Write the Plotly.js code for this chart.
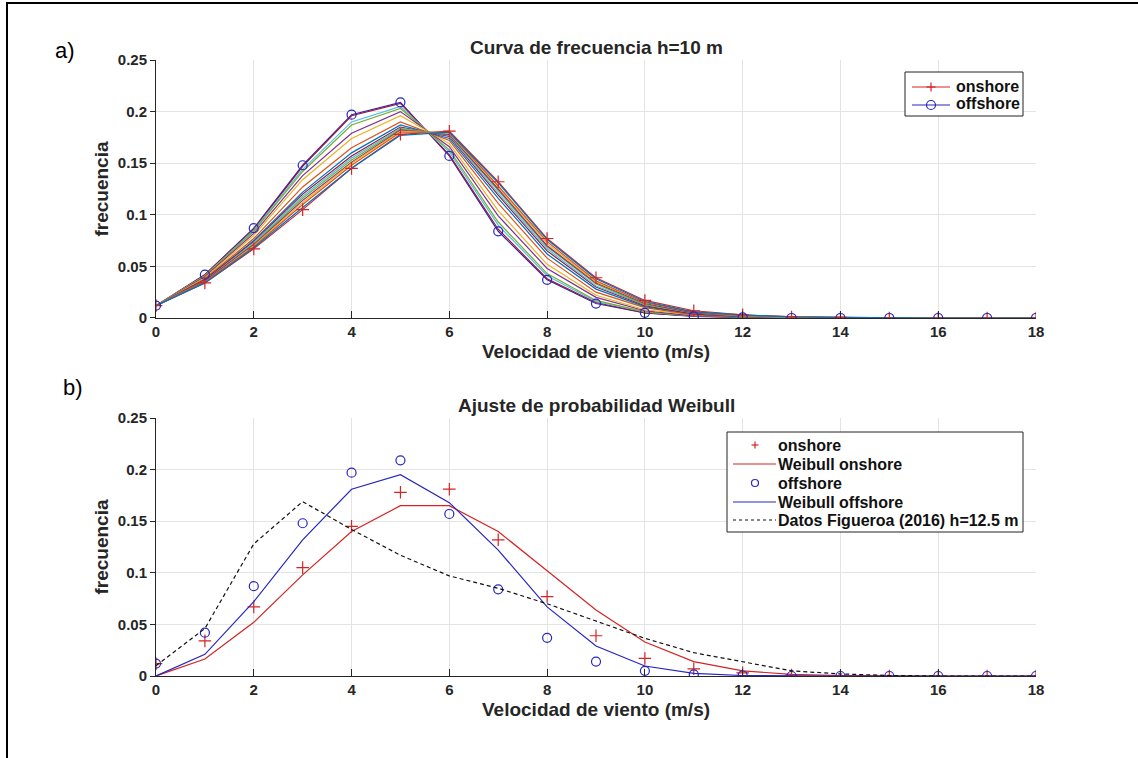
<!DOCTYPE html>
<html>
<head>
<meta charset="utf-8">
<script src="https://cdn.plot.ly/plotly-3.0.1.min.js"></script>
<style>html,body{margin:0;padding:0;background:#fff;}#chart{width:1138px;height:758px;}</style>
</head>
<body>
<div id="chart"></div>
<script>
// ---------- data ----------
const speed = [0,1,2,3,4,5,6,7,8,9,10,11,12,13,14,15,16,17,18];
const xTickVals = [0,2,4,6,8,10,12,14,16,18];
const xTickText = ['0','2','4','6','8','10','12','14','16','18'];
const yTickVals = [0,0.05,0.1,0.15,0.2,0.25];
const yTickText = ['0','0.05','0.1','0.15','0.2','0.25'];

const onshore  = [0.012,0.034,0.067,0.105,0.145,0.178,0.181,0.132,0.077,0.039,0.017,0.007,0.003,0.001,0.0005,0,0,0,0];
const offshore = [0.012,0.042,0.087,0.148,0.197,0.209,0.157,0.084,0.037,0.014,0.005,0.0015,0.0005,0,0,0,0,0,0];

// individual site curves (panel a)
const site01 = [0.012,0.042,0.086,0.147,0.196,0.208,0.158,0.086,0.038,0.015,0.005,0.002,0.0005,0,0,0,0,0,0];
const site02 = [0.012,0.041,0.085,0.144,0.190,0.205,0.161,0.090,0.041,0.016,0.006,0.002,0.001,0,0,0,0,0,0];
const site03 = [0.012,0.041,0.084,0.142,0.187,0.203,0.163,0.093,0.043,0.017,0.006,0.002,0.001,0,0,0,0,0,0];
const site04 = [0.012,0.040,0.082,0.138,0.179,0.200,0.166,0.099,0.048,0.020,0.007,0.002,0.001,0,0,0,0,0,0];
const site05 = [0.012,0.039,0.080,0.134,0.174,0.196,0.169,0.104,0.052,0.022,0.008,0.003,0.001,0,0,0,0,0,0];
const site06 = [0.012,0.038,0.077,0.127,0.165,0.190,0.172,0.111,0.058,0.025,0.010,0.003,0.001,0.0005,0,0,0,0,0];
const site07 = [0.012,0.037,0.075,0.122,0.160,0.187,0.174,0.116,0.062,0.028,0.011,0.004,0.001,0.0005,0,0,0,0,0];
const site08 = [0.012,0.037,0.074,0.120,0.157,0.185,0.176,0.119,0.065,0.030,0.012,0.004,0.002,0.0005,0,0,0,0,0];
const site09 = [0.012,0.036,0.073,0.118,0.155,0.184,0.177,0.121,0.067,0.031,0.013,0.005,0.002,0.0005,0,0,0,0,0];
const site10 = [0.012,0.036,0.072,0.116,0.153,0.183,0.178,0.123,0.069,0.033,0.013,0.005,0.002,0.001,0,0,0,0,0];
const site11 = [0.012,0.036,0.071,0.114,0.151,0.182,0.178,0.125,0.070,0.034,0.014,0.005,0.002,0.001,0,0,0,0,0];
const site12 = [0.012,0.035,0.070,0.112,0.150,0.181,0.179,0.127,0.072,0.035,0.015,0.006,0.002,0.001,0,0,0,0,0];
const site13 = [0.012,0.035,0.069,0.110,0.148,0.180,0.180,0.128,0.074,0.036,0.015,0.006,0.002,0.001,0.0005,0,0,0,0];
const site14 = [0.012,0.034,0.068,0.107,0.145,0.177,0.180,0.131,0.076,0.038,0.016,0.006,0.003,0.001,0.0005,0,0,0,0];
const siteCurves = [site01,site02,site03,site04,site05,site06,site07,site08,site09,site10,site11,site12,site13,site14];
const siteColors = ['#A2142F','#4DBEEE','#77AC30','#7E2F8E','#EDB120','#D95319','#0072BD','#A2142F','#4DBEEE','#77AC30','#7E2F8E','#EDB120','#D95319','#0072BD'];

// panel b
const weibullOn  = [0,0.0165,0.052,0.098,0.140,0.165,0.165,0.140,0.102,0.064,0.033,0.014,0.005,0.0015,0.0004,0,0,0,0];
const weibullOff = [0,0.021,0.072,0.132,0.181,0.195,0.168,0.122,0.067,0.029,0.0097,0.0025,0.0005,0,0,0,0,0,0];
const figueroa   = [0.010,0.046,0.128,0.169,0.142,0.117,0.097,0.085,0.070,0.053,0.0365,0.0226,0.0139,0.005,0.002,0.0005,0,0,0];

// legend entries
const legendA = ['onshore','offshore'];
const legendB = ['onshore','Weibull onshore','offshore','Weibull offshore','Datos Figueroa (2016) h=12.5 m'];

// ---------- styling ----------
const RED = '#d42424', BLUE = '#2626c0', AX = '#262626';
const FONT = 'Liberation Sans, Arial, Helvetica, sans-serif';
const tickFont = {family: FONT, size: 15, color: AX, weight: 'bold'};
const titleFont = {family: FONT, size: 19, color: AX, weight: 'bold'};
const legFont = {family: FONT, size: 16, color: '#111111', weight: 'bold'};

const plusMk = {symbol: 'cross-thin-open', size: 9, line: {color: RED, width: 1.2}, color: RED};
const circMk = {symbol: 'circle-open', size: 9, line: {color: BLUE, width: 1.2}, color: BLUE};

const traces = [];
// panel a
traces.push({x: speed, y: onshore, mode: 'lines', name: 'onshore', line: {color: RED, width: 1.2}, xaxis: 'x', yaxis: 'y'});
traces.push({x: speed, y: offshore, mode: 'lines', name: 'offshore', line: {color: BLUE, width: 1.2}, xaxis: 'x', yaxis: 'y'});
siteCurves.forEach((c, i) => {
  traces.push({x: speed, y: c, mode: 'lines', hoverinfo: 'skip', line: {color: siteColors[i], width: 1.2}, xaxis: 'x', yaxis: 'y'});
});
traces.push({x: speed, y: onshore, mode: 'markers', marker: plusMk, xaxis: 'x', yaxis: 'y'});
traces.push({x: speed, y: offshore, mode: 'markers', marker: circMk, xaxis: 'x', yaxis: 'y'});

// panel b
traces.push({x: speed, y: onshore, mode: 'markers', name: 'onshore', marker: plusMk, xaxis: 'x2', yaxis: 'y2'});
traces.push({x: speed, y: weibullOn, mode: 'lines', name: 'Weibull onshore', line: {color: RED, width: 1.2}, xaxis: 'x2', yaxis: 'y2'});
traces.push({x: speed, y: offshore, mode: 'markers', name: 'offshore', marker: circMk, xaxis: 'x2', yaxis: 'y2'});
traces.push({x: speed, y: weibullOff, mode: 'lines', name: 'Weibull offshore', line: {color: BLUE, width: 1.2}, xaxis: 'x2', yaxis: 'y2'});
traces.push({x: speed, y: figueroa, mode: 'lines', name: 'Datos Figueroa (2016) h=12.5 m',
  line: {color: '#111111', width: 1.2, dash: '4px,3px'}, xaxis: 'x2', yaxis: 'y2'});

function xAxis(anchor) {
  return {anchor: anchor, domain: [0, 1], range: [0, 18], tickvals: xTickVals, ticktext: xTickText,
    ticks: 'inside', ticklen: 7, tickcolor: AX, tickwidth: 1, showline: true, linecolor: AX, linewidth: 1,
    showgrid: true, gridcolor: '#e4e4e4', gridwidth: 1, zeroline: false, tickfont: tickFont,
    title: {text: 'Velocidad de viento (m/s)', font: titleFont, standoff: 5}, fixedrange: true};
}
function yAxis(anchor, domain) {
  return {anchor: anchor, domain: domain, range: [0, 0.25], tickvals: yTickVals, ticktext: yTickText,
    ticks: 'outside', ticklen: 5, tickcolor: AX, tickwidth: 1, showline: true, linecolor: AX, linewidth: 1,
    showgrid: true, gridcolor: '#e4e4e4', gridwidth: 1, zeroline: false, tickfont: tickFont,
    title: {text: 'frecuencia', font: titleFont, standoff: 4}, fixedrange: true};
}

// ---- manual legends (pixel positions converted to paper coords) ----
const PL = 156, PW = 880, PT = 60, PH = 616;
const px = v => (v - PL) / PW;
const py = v => 1 - (v - PT) / PH;
const shapes = [];
const annotations = [];
function box(x0, y0, x1, y1) {
  shapes.push({type: 'rect', xref: 'paper', yref: 'paper', x0: px(x0), x1: px(x1), y0: py(y0), y1: py(y1),
    line: {color: '#222222', width: 1}, fillcolor: '#ffffff', layer: 'above'});
}
function seg(x0, x1, y, color, dash) {
  shapes.push({type: 'line', xref: 'paper', yref: 'paper', x0: px(x0), x1: px(x1), y0: py(y), y1: py(y),
    line: {color: color, width: 1.2, dash: dash || 'solid'}, layer: 'above'});
}
function plus(cx, cy, r, color) {
  seg(cx - r, cx + r, cy, color);
  shapes.push({type: 'line', xref: 'paper', yref: 'paper', x0: px(cx), x1: px(cx), y0: py(cy - r), y1: py(cy + r),
    line: {color: color, width: 1.2}, layer: 'above'});
}
function circ(cx, cy, r, color) {
  shapes.push({type: 'circle', xref: 'paper', yref: 'paper', x0: px(cx - r), x1: px(cx + r), y0: py(cy - r), y1: py(cy + r),
    line: {color: color, width: 1.2}, fillcolor: 'rgba(0,0,0,0)', layer: 'above'});
}
function label(text, x, y) {
  annotations.push({text: text, xref: 'paper', yref: 'paper', x: px(x), y: py(y), xanchor: 'left', yanchor: 'middle',
    showarrow: false, font: legFont, borderpad: 0});
}
// legend a
box(905, 72, 1023, 116);
seg(912, 950, 87, RED); plus(931, 87, 4.5, RED); label(legendA[0], 955, 86);
seg(912, 950, 105, BLUE); circ(931, 105, 4.5, BLUE); label(legendA[1], 955, 104);
// legend b
box(727, 432, 1023, 532);
const rowsB = [445, 464, 483, 502, 520];
plus(755, rowsB[0], 3.5, RED);
seg(733, 776, rowsB[1], RED);
circ(755, rowsB[2], 3.5, BLUE);
seg(733, 776, rowsB[3], BLUE);
seg(733, 776, rowsB[4], '#111111', '3px,3px');
legendB.forEach((t, i) => label(t, 777, rowsB[i]));

// titles and panel labels
annotations.push({text: 'Curva de frecuencia h=10 m', xref: 'paper', yref: 'paper', x: 0.5, y: 1.0, yanchor: 'bottom',
  yshift: 0, showarrow: false, font: titleFont});
annotations.push({text: 'Ajuste de probabilidad Weibull', xref: 'paper', yref: 'paper', x: 0.5, y: 0.41883, yanchor: 'bottom',
  yshift: 0, showarrow: false, font: titleFont});
annotations.push({text: 'a)', xref: 'paper', yref: 'paper', x: px(65), y: py(50), xanchor: 'center', yanchor: 'middle',
  showarrow: false, font: {family: FONT, size: 22, color: '#000000'}});
annotations.push({text: 'b)', xref: 'paper', yref: 'paper', x: px(73), y: py(387), xanchor: 'center', yanchor: 'middle',
  showarrow: false, font: {family: FONT, size: 22, color: '#000000'}});

// outer frame (left and top edges)
shapes.push({type: 'line', xref: 'paper', yref: 'paper', x0: px(7), x1: px(7), y0: py(3), y1: py(760),
  line: {color: '#000000', width: 2}});
shapes.push({type: 'line', xref: 'paper', yref: 'paper', x0: px(6), x1: px(1140), y0: py(3), y1: py(3),
  line: {color: '#000000', width: 2}});

const layout = {
  width: 1138, height: 758,
  margin: {l: 156, r: 102, t: 60, b: 82},
  paper_bgcolor: '#ffffff', plot_bgcolor: '#ffffff',
  showlegend: false,
  xaxis: xAxis('y'),
  yaxis: yAxis('x', [0.5812, 1]),
  xaxis2: xAxis('y2'),
  yaxis2: yAxis('x2', [0, 0.41883]),
  annotations: annotations,
  shapes: shapes
};

Plotly.newPlot('chart', traces, layout, {staticPlot: true, displayModeBar: false});
</script>
</body>
</html>
